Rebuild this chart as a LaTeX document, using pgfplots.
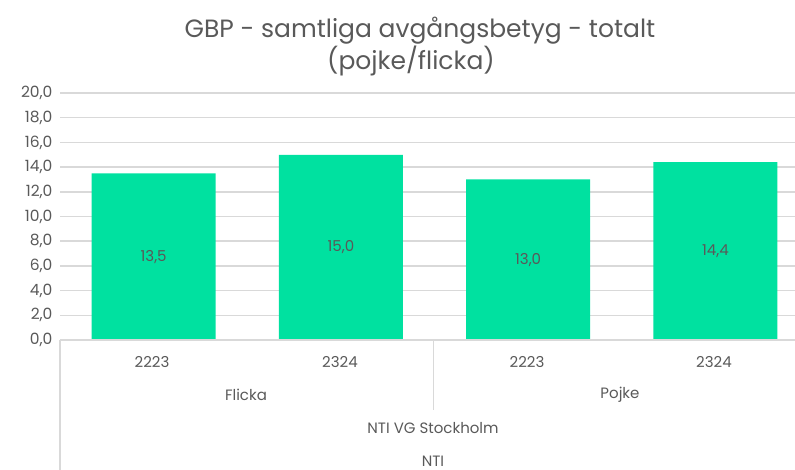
\documentclass[border=0pt]{standalone}
\usepackage{fontspec}
\setmainfont{Poppins}
\usepackage{pgfplots}
\pgfplotsset{compat=1.18}
\definecolor{bargreen}{HTML}{00E1A0}
\definecolor{gridgray}{HTML}{D9D9D9}
\definecolor{txt}{HTML}{595959}
\begin{document}
\begin{tikzpicture}[x=1pt,y=1pt]
\useasboundingbox (0,0) rectangle (795,-470);
\node[txt,font=\fontsize{25}{28}\selectfont,anchor=center] at (420,-31) {GBP - samtliga avgångsbetyg - totalt};
\node[txt,font=\fontsize{25}{28}\selectfont,anchor=center] at (411,-61) {(pojke/flicka)};
\begin{axis}[
  at={(60pt,-340pt)}, anchor=south west,
  scale only axis, width=735pt, height=247pt,
  xmin=-0.5, xmax=3.425, ymin=0, ymax=20,
  ytick={0,2,...,20},
  xtick=\empty,
  axis line style={draw=none},
  axis x line*=bottom,
  ymajorgrids, grid style={gridgray, line width=1.5pt},
  major tick length=0pt,
  tick label style={txt, font=\fontsize{15.5}{18}\selectfont},
  yticklabel style={xshift=-4pt},
  /pgf/number format/.cd, fixed, fixed zerofill, precision=1, use comma, assume math mode=true,
  /pgfplots/.cd,
  clip=false,
]
\addplot[ybar, bar width=124pt, fill=bargreen, draw=none] coordinates {(0,13.5) (1,15.0) (2,13.0) (3,14.4)};
\addplot[draw=none, mark=none, nodes near coords, point meta=explicit symbolic,
  nodes near coords style={anchor=center, txt, font=\fontsize{15}{18}\selectfont}]
  coordinates {(0,6.75) [13,5] (1,7.5) [15,0] (2,6.5) [13,0] (3,7.2) [14,4]};
\end{axis}
\draw[gridgray, line width=1.5pt] (60,-340) -- (795,-340);
\draw[gridgray, line width=1.2pt] (60,-340) -- (60,-470);
\draw[gridgray, line width=1.2pt] (433.5,-340) -- (433.5,-410);
\begin{scope}[every node/.style={txt, font=\fontsize{15}{18}\selectfont, anchor=center}]
\node at (152,-362) {2223};
\node at (340,-362) {2324};
\node at (527,-362) {2223};
\node at (714,-362) {2324};
\node at (246,-395) {Flicka};
\node at (620,-395) {Pojke};
\node at (433,-428) {NTI VG Stockholm};
\node at (433,-461) {NTI};
\end{scope}
\end{tikzpicture}
\end{document}
